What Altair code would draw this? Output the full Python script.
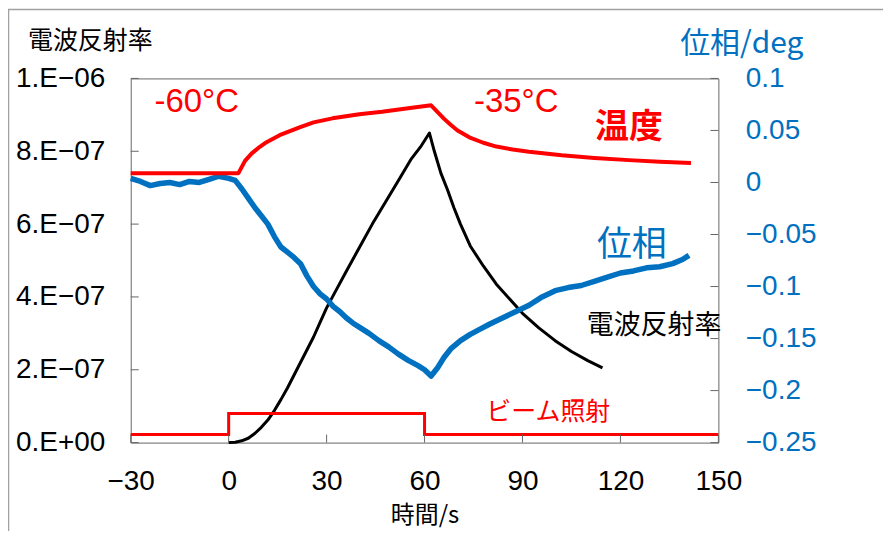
import altair as alt
import pandas as pd

# ---- axis ticks / labels ----
time_ticks = [-30, 0, 30, 60, 90, 120, 150]
time_labels = ["−30", "0", "30", "60", "90", "120", "150"]
refl_ticks = [0, 2e-7, 4e-7, 6e-7, 8e-7, 1e-6]
refl_labels = ["0.E+00", "2.E−07", "4.E−07", "6.E−07", "8.E−07", "1.E−06"]
phase_ticks = [-0.25, -0.2, -0.15, -0.1, -0.05, 0, 0.05, 0.1]
phase_labels = ["−0.25", "−0.2", "−0.15", "−0.1", "−0.05", "0", "0.05", "0.1"]

# ---- reflectance (black) ----
refl_t = [0, 2, 4, 6, 8, 10, 12, 14, 16, 18, 20, 22, 24, 26, 28, 30, 33, 36, 40, 44, 48, 52, 56, 59,
          61.5, 63, 65, 67, 69, 71, 74, 78, 82, 86, 90, 95, 100, 105, 110, 114.5]
refl_v = [0, 0.01e-7, 0.05e-7, 0.12e-7, 0.25e-7, 0.42e-7, 0.62e-7, 0.88e-7, 1.18e-7, 1.5e-7,
          1.85e-7, 2.2e-7, 2.55e-7, 2.9e-7, 3.3e-7, 3.7e-7, 4.2e-7, 4.7e-7, 5.35e-7, 6.0e-7,
          6.6e-7, 7.2e-7, 7.8e-7, 8.15e-7, 8.5e-7, 8.0e-7, 7.4e-7, 6.95e-7, 6.45e-7, 6.0e-7,
          5.4e-7, 4.85e-7, 4.35e-7, 3.95e-7, 3.55e-7, 3.15e-7, 2.8e-7, 2.5e-7, 2.25e-7, 2.05e-7]

# ---- phase (blue) ----
phase_t = [-30, -27, -24, -21, -18, -15, -12, -9, -6, -3, 0, 2, 4, 6, 8, 10, 12, 14, 16, 18, 20,
           22, 24, 26, 28, 30, 32, 34, 36, 38, 40, 43, 46, 49, 52, 55, 58, 60, 62, 64, 66, 68,
           71, 74, 77, 80, 84, 88, 92, 96, 100, 104, 108, 112, 116, 120, 124, 128, 132, 136,
           139, 141]
phase_v = [0.004, 0.001, -0.003, -0.001, 0.0, -0.002, 0.001, 0.0, 0.003, 0.006, 0.004, 0.002,
           -0.006, -0.015, -0.024, -0.032, -0.040, -0.052, -0.062, -0.067, -0.072, -0.078,
           -0.090, -0.100, -0.107, -0.112, -0.119, -0.124, -0.130, -0.135, -0.139, -0.145,
           -0.152, -0.158, -0.165, -0.171, -0.176, -0.180, -0.186, -0.178, -0.168, -0.160,
           -0.152, -0.146, -0.141, -0.136, -0.130, -0.124, -0.118, -0.110, -0.104, -0.101,
           -0.099, -0.095, -0.091, -0.087, -0.085, -0.082, -0.081, -0.078, -0.074, -0.070]

# ---- temperature (red, °C, no axis) ----
temp_t = [-30, 3, 5, 7, 9, 11.6, 15.6, 21.7, 26, 31.8, 40, 47, 55, 62, 64, 66, 68, 70, 73.7, 78,
          82, 87, 92, 102, 112, 122.6, 132, 141.6]
temp_v = [-60, -60, -55.5, -52.8, -50.8, -48.6, -46, -43.1, -41.3, -39.8, -38.3, -37.4, -36.1,
          -35, -37.5, -40, -42.2, -44.2, -46.8, -48.8, -50.2, -51.3, -52.1, -53.4, -54.4, -55.2,
          -55.8, -56.3]

# ---- beam on/off step (red) ----
beam_t = [-30, 0, 60, 150]
beam_v = [0.22e-7, 0.8e-7, 0.22e-7, 0.22e-7]

# ---- annotations ----
ann_text = ["-60°C", "-35°C", "温度", "位相", "電波反射率", "ビーム照射"]
ann_t = [-9.8, 88.1, 122.6, 123.5, 130.3, 97.9]
ann_v = [9.34e-7, 9.34e-7, 8.63e-7, 5.42e-7, 3.2e-7, 0.85e-7]
ann_color = ["#FF0000", "#FF0000", "#FF0000", "#0070C0", "#000000", "#FF0000"]
ann_size = [33, 33, 34, 35, 27, 25]
ann_bold = [False, False, True, False, False, False]
ann_font = ["Liberation Sans", "Liberation Sans", "Noto Sans CJK JP", "Noto Sans CJK JP",
            "Noto Sans CJK JP", "Noto Sans CJK JP"]

JP = "Noto Sans CJK JP"
NUM = "Liberation Sans"
BLUE = "#0070C0"
RED = "#FF0000"
GRAY = "#666666"
W, H = 589, 365

x_scale = alt.Scale(domain=[-30, 150], nice=False, zero=False)
left_scale = alt.Scale(domain=[0, 1e-6], nice=False, zero=False)
right_scale = alt.Scale(domain=[-0.25, 0.1], nice=False, zero=False)
temp_scale = alt.Scale(domain=[-159.3, -25.1], nice=False, zero=False)


def expr_list(labels, base, step):
    arr = "[" + ",".join("'" + s + "'" for s in labels) + "]"
    return f"{arr}[round((datum.value - ({base})) / {step})]"


x_axis = alt.Axis(values=time_ticks, labelExpr=expr_list(time_labels, -30, 30), tickSize=0,
                  domain=False, grid=False, labelFont=NUM, labelFontSize=28, labelColor="black",
                  labelPadding=25, labelFlush=False, labelOverlap=False, title="時間/s",
                  titleFont=JP, titleFontSize=24, titleFontWeight="normal", titleColor="black",
                  titleY=73, titleBaseline="middle")
left_axis = alt.Axis(orient="left", values=refl_ticks, labelExpr=expr_list(refl_labels, 0, 2e-7),
                     tickSize=0, domain=False, grid=False, labelFont=NUM, labelFontSize=28,
                     labelColor="black", labelPadding=26, labelFlush=False, labelOverlap=False,
                     title="電波反射率", titleAngle=0, titleX=-41, titleY=-38, titleAlign="center",
                     titleBaseline="middle", titleFont=JP, titleFontSize=25,
                     titleFontWeight="normal", titleColor="black")
right_axis = alt.Axis(orient="right", values=phase_ticks,
                      labelExpr=expr_list(phase_labels, -0.25, 0.05), tickSize=0, domain=False,
                      grid=False, labelFont=NUM, labelFontSize=28, labelColor=BLUE,
                      labelPadding=27, labelFlush=False, labelOverlap=False, title="位相/deg",
                      titleAngle=0, titleX=23, titleY=-35, titleAlign="center",
                      titleBaseline="middle", titleFont=JP, titleFontSize=30,
                      titleFontWeight="normal", titleColor=BLUE)

refl_df = pd.DataFrame({"t": refl_t, "v": refl_v})
phase_df = pd.DataFrame({"t": phase_t, "v": phase_v})
temp_df = pd.DataFrame({"t": temp_t, "v": temp_v})
beam_df = pd.DataFrame({"t": beam_t, "v": beam_v})


def X():
    return alt.X("t:Q", scale=x_scale, axis=x_axis)


def YL():
    return alt.Y("v:Q", scale=left_scale, axis=left_axis)


def YR():
    return alt.Y("v:Q", scale=right_scale, axis=right_axis)


black = alt.Chart(refl_df).mark_line(color="black", strokeWidth=3, strokeJoin="round").encode(
    x=X(), y=YL(),
)
beam = alt.Chart(beam_df).mark_line(color=RED, strokeWidth=3, interpolate="step-after").encode(
    x=X(), y=YL(),
)
left_ticks = alt.Chart(pd.DataFrame({"v": refl_ticks})).mark_rule(color=GRAY, strokeWidth=1).encode(
    y=YL(), x=alt.value(0), x2=alt.value(8),
)
x_ticks = alt.Chart(pd.DataFrame({"t": time_ticks})).mark_rule(color=GRAY, strokeWidth=1).encode(
    x=X(), y=alt.value(H), y2=alt.value(H - 8),
)

texts = []
for i in range(len(ann_text)):
    d = pd.DataFrame({"t": [ann_t[i]], "v": [ann_v[i]], "s": [ann_text[i]]})
    texts.append(
        alt.Chart(d).mark_text(color=ann_color[i], fontSize=ann_size[i], font=ann_font[i],
                               fontWeight="bold" if ann_bold[i] else "normal",
                               align="center", baseline="middle").encode(
            x=X(), y=YL(), text="s:N",
        )
    )

left_group = alt.layer(black, beam, left_ticks, x_ticks, *texts)

phase = alt.Chart(phase_df).mark_line(color=BLUE, strokeWidth=5.5, strokeJoin="round").encode(
    x=X(), y=YR(),
)
right_ticks = alt.Chart(pd.DataFrame({"v": phase_ticks})).mark_rule(color=GRAY, strokeWidth=1).encode(
    y=YR(), x=alt.value(W - 8), x2=alt.value(W),
)
right_group = alt.layer(phase, right_ticks)

temp = alt.Chart(temp_df).mark_line(color=RED, strokeWidth=4, strokeJoin="round").encode(
    x=X(), y=alt.Y("v:Q", scale=temp_scale, axis=None),
)

frame_top = alt.Chart(alt.Data(values=[{"a": 1}])).mark_rule(color="#A0A0A0", strokeWidth=1.5).encode(
    x=alt.value(-123), x2=alt.value(760), y=alt.value(-69),
)
frame_left = alt.Chart(alt.Data(values=[{"a": 1}])).mark_rule(color="#A0A0A0", strokeWidth=1.5).encode(
    x=alt.value(-122.5), y=alt.value(-69), y2=alt.value(470),
)

chart = alt.layer(left_group, right_group, temp, frame_top, frame_left).resolve_scale(
    y="independent"
).properties(
    width=W, height=H,
    autosize=alt.AutoSizeParams(type="none"),
    padding={"left": 123, "top": 70, "right": 165, "bottom": 88},
    background="white",
).configure_view(stroke=GRAY, strokeWidth=1)

chart.save("out.html", embed_options={"renderer": "svg", "actions": False})
